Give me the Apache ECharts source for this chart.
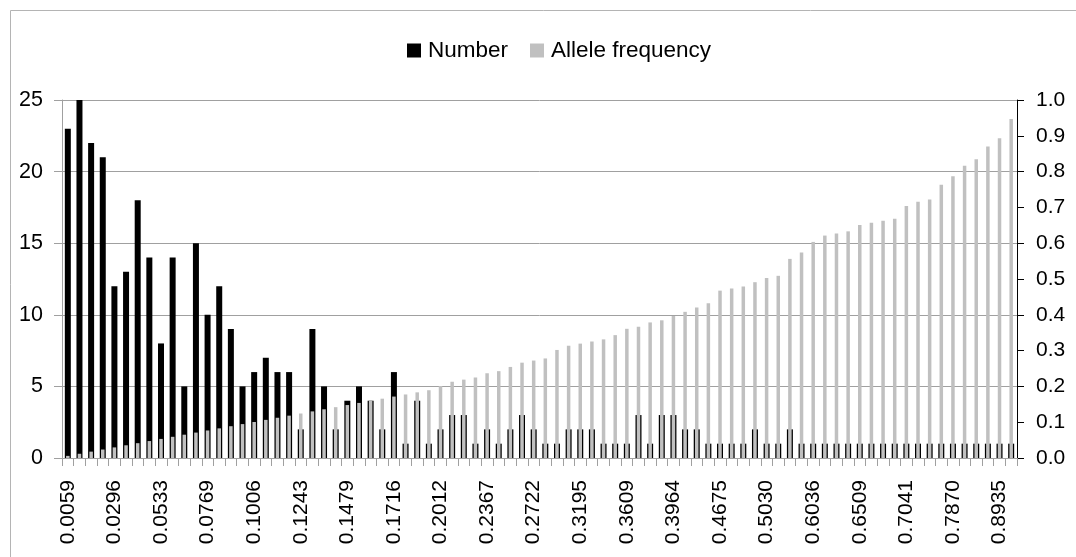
<!DOCTYPE html>
<html>
<head>
<meta charset="utf-8">
<script src="https://cdn.jsdelivr.net/npm/echarts@6/dist/echarts.min.js"></script>
<style>html,body{margin:0;padding:0;background:#fff}#c{width:1076px;height:557px}</style>
</head>
<body>
<div id="c"></div>
<script>
const categories = [
"0.0059","0.0118","0.0178","0.0237","0.0296","0.0355","0.0414","0.0473","0.0533","0.0592",
"0.0651","0.0710","0.0769","0.0828","0.0888","0.0947","0.1006","0.1065","0.1124","0.1183",
"0.1243","0.1302","0.1361","0.1420","0.1479","0.1538","0.1598","0.1657","0.1716","0.1775",
"0.1834","0.1893","0.2012","0.2130","0.2189","0.2249","0.2367","0.2426","0.2544","0.2663",
"0.2722","0.2781","0.3018","0.3136","0.3195","0.3254","0.3314","0.3432","0.3609","0.3669",
"0.3787","0.3846","0.3964","0.4083","0.4201","0.4320","0.4675","0.4734","0.4793","0.4911",
"0.5030","0.5089","0.5562","0.5740","0.6036","0.6213","0.6272","0.6331","0.6509","0.6568",
"0.6627","0.6686","0.7041","0.7160","0.7219","0.7633","0.7870","0.8166","0.8343","0.8698",
"0.8935","0.9467"];
const numberValues = [
23,25,22,21,12,13,18,14,8,14,
5,15,10,12,9,5,6,7,6,6,
2,9,5,2,4,5,4,2,6,1,
4,1,2,3,3,1,2,1,2,3,
2,1,1,2,2,2,1,1,1,3,
1,3,3,2,2,1,1,1,1,2,
1,1,2,1,1,1,1,1,1,1,
1,1,1,1,1,1,1,1,1,1,
1,1];
const alleleFrequency = [
0.0059,0.0118,0.0178,0.0237,0.0296,0.0355,0.0414,0.0473,0.0533,0.0592,
0.0651,0.0710,0.0769,0.0828,0.0888,0.0947,0.1006,0.1065,0.1124,0.1183,
0.1243,0.1302,0.1361,0.1420,0.1479,0.1538,0.1598,0.1657,0.1716,0.1775,
0.1834,0.1893,0.2012,0.2130,0.2189,0.2249,0.2367,0.2426,0.2544,0.2663,
0.2722,0.2781,0.3018,0.3136,0.3195,0.3254,0.3314,0.3432,0.3609,0.3669,
0.3787,0.3846,0.3964,0.4083,0.4201,0.4320,0.4675,0.4734,0.4793,0.4911,
0.5030,0.5089,0.5562,0.5740,0.6036,0.6213,0.6272,0.6331,0.6509,0.6568,
0.6627,0.6686,0.7041,0.7160,0.7219,0.7633,0.7870,0.8166,0.8343,0.8698,
0.8935,0.9467];
const leftTicks = {min: 0, max: 25, interval: 5};
const rightTicks = {min: 0, max: 1, interval: 0.1};

const FONT = 'Liberation Sans, Arial, sans-serif';
const chart = echarts.init(document.getElementById('c'), null, {renderer: 'canvas'});
chart.setOption({
  animation: false,
  backgroundColor: '#ffffff',
  textStyle: {fontFamily: FONT},
  graphic: [{
    type: 'rect', silent: true,
    shape: {x: 10.5, y: 10.5, width: 1100, height: 600},
    style: {fill: 'none', stroke: '#b4b4b4', lineWidth: 1}
  }],
  legend: {
    top: 39, left: 407, padding: 0,
    itemWidth: 14, itemHeight: 14, itemGap: 22,
    icon: 'rect',
    textStyle: {fontFamily: FONT, fontSize: 22.5, color: '#000', padding: [0, 0, 0, 2]},
    data: ['Number', 'Allele frequency']
  },
  grid: {left: 62, right: 59, top: 100, bottom: 99, containLabel: false},
  xAxis: [{
    type: 'category', data: categories, boundaryGap: true,
    axisLine: {show: true, lineStyle: {color: '#a0a0a0', width: 1}},
    axisTick: {show: true, interval: 0, length: 8, lineStyle: {color: '#a0a0a0'}},
    axisLabel: {interval: 3, rotate: 90, margin: 22, fontSize: 21, color: '#000', fontFamily: FONT},
    splitLine: {show: false}
  }, {
    type: 'category', data: categories, boundaryGap: true, show: false
  }],
  yAxis: [{
    type: 'value', min: leftTicks.min, max: leftTicks.max, interval: leftTicks.interval,
    axisLine: {show: true, lineStyle: {color: '#a0a0a0'}},
    axisTick: {show: true, length: 8, lineStyle: {color: '#a0a0a0'}},
    axisLabel: {margin: 19, fontSize: 21.5, color: '#000', fontFamily: FONT},
    splitLine: {show: true, lineStyle: {color: '#a0a0a0', width: 1}}
  }, {
    type: 'value', position: 'right', min: rightTicks.min, max: rightTicks.max, interval: rightTicks.interval,
    axisLine: {show: true, lineStyle: {color: '#000'}},
    axisTick: {show: true, length: 7, lineStyle: {color: '#000'}},
    axisLabel: {margin: 19, fontSize: 21, color: '#000', fontFamily: FONT,
      formatter: v => v.toFixed(1)},
    splitLine: {show: false}
  }],
  series: [{
    name: 'Number', type: 'bar', xAxisIndex: 0, yAxisIndex: 0,
    data: numberValues, barWidth: 6,
    itemStyle: {color: '#000000'}
  }, {
    name: 'Allele frequency', type: 'bar', xAxisIndex: 1, yAxisIndex: 1,
    data: alleleFrequency, barWidth: 3.5,
    itemStyle: {color: '#c0c0c0'}
  }]
});
</script>
</body>
</html>
